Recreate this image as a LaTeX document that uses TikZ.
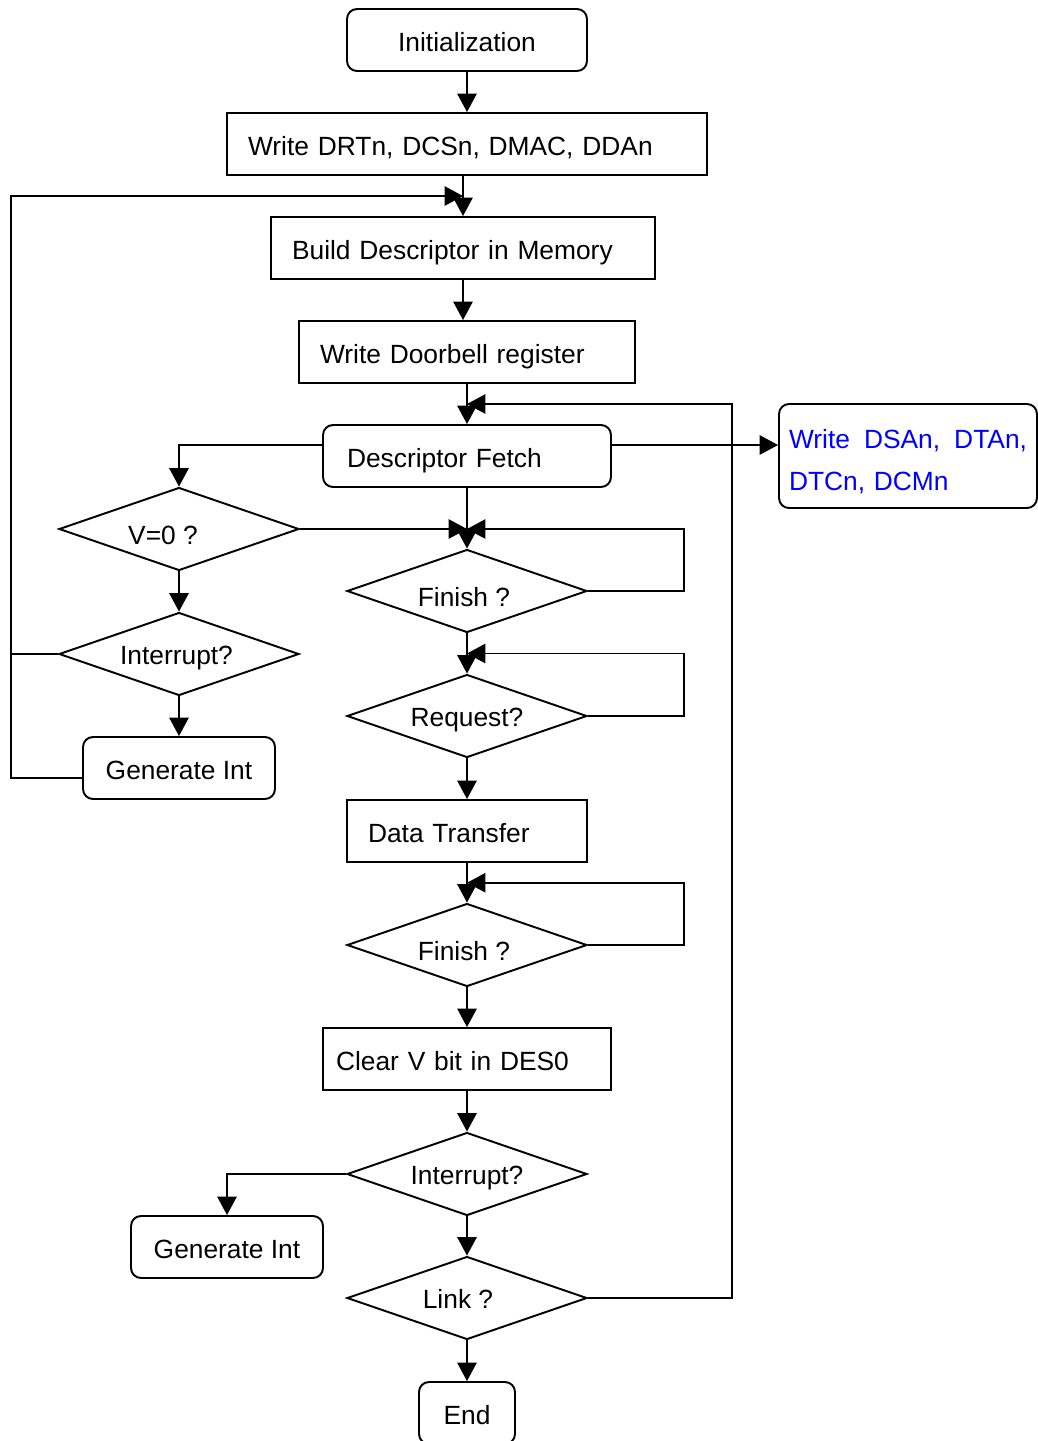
\documentclass[tikz,border=0pt]{standalone}
\usepackage{fontspec}
\setmainfont{Liberation Sans}
\usetikzlibrary{shapes.geometric,arrows.meta,calc}
\begin{document}
\begin{tikzpicture}[x=0.02cm,y=-0.02cm,>={Triangle[length=10.5pt,width=11pt]},line width=1.1pt,
	font=\fontsize{15}{18}\selectfont,
	proc/.style={draw,rectangle,minimum height=1.24cm,inner xsep=0.42cm,inner ysep=0pt,align=left,
		text height=15pt,text depth=2pt},
	term/.style={draw,rectangle,rounded corners=0.2cm,minimum height=1.24cm,inner sep=0pt,
		text height=15pt,text depth=2pt},
	test/.style={draw,diamond,aspect=2.9,minimum width=4.8cm,minimum height=1.66cm,inner sep=0pt,
		text height=13.4pt,text depth=2pt}]
	\useasboundingbox (0,0) rectangle (1038,1441);
	% main column
	\node[term,minimum width=4.8cm] (init) at (467,40) {Initialization};
	\node[proc,text width=8.76cm] (wregs) at (467,144) {Write DRTn, DCSn, DMAC, DDAn};
	\node[proc,text width=6.84cm] (build) at (463,248) {Build Descriptor in Memory};
	\node[proc,text width=5.88cm] (bell) at (467,352) {Write Doorbell register};
	\node[proc,rounded corners=0.2cm,inner xsep=0.48cm,text width=4.8cm] (fetch) at (467,456) {Descriptor Fetch};
	\node[test,text height=19.6pt] (fin1) at (467,591) {Finish ?\kern0.12cm};
	\node[test] (req) at (467,716) {Request?};
	\node[proc,text width=3.96cm] (xfer) at (467,831) {Data Transfer};
	\node[test,text height=19.6pt] (fin2) at (467,945) {Finish ?\kern0.12cm};
	\node[proc,inner xsep=0.26cm,text width=5.24cm] (clrv) at (467,1059) {Clear V bit in DES0};
	\node[test] (intB) at (467,1174) {Interrupt?};
	\node[test] (link) at (467,1298) {Link ?\kern0.36cm};
	\node[term,minimum width=1.92cm] (endn) at (467,1413) {End};
	% side nodes
	\node[term,inner xsep=0.2cm,text width=4.76cm,minimum height=2.08cm,align=left,text=blue,
		text height=15pt,text depth=23pt,
		font=\fontsize{15}{23.8}\selectfont] (wdesc) at (908,456) {Write\hfill DSAn,\hfill DTAn,\\DTCn, DCMn};
	\node[test,text height=19.6pt] (vzero) at (179,529) {V=0 ?\kern0.64cm};
	\node[test] (intA) at (179,654) {Interrupt?\kern0.1cm};
	\node[term,minimum width=3.84cm] (genA) at (179,768) {Generate Int};
	\node[term,minimum width=3.84cm] (genB) at (227,1247) {Generate Int};
	\coordinate (lft) at (11,196);
	\coordinate (rgt) at (732,404);
	\coordinate (fo) at ([yshift=0.22cm]fetch.east);
	\coordinate (fw) at ([yshift=0.22cm]fetch.west);
	\coordinate (gw) at ([yshift=-0.2cm]genA.west);
	% connectors
	\draw[->] (init) -- (wregs);
	\draw[->] (build.north |- wregs.south) -- (build.north);
	\draw[->] (gw) -| (lft) -- (build.north |- lft);
	\draw (intA.west) -- (intA.west -| lft);
	\draw[->] (build.south) -- (build.south |- bell.north);
	\draw[->] (bell) -- (fetch);
	\draw[->] (link.east) -| (rgt) -- (bell.south |- rgt);
	\draw[->] (fo) -- (fo -| wdesc.west);
	\draw[->] (fw) -| (vzero.north);
	\draw[->] (fetch) -- (fin1);
	\draw[->] (vzero.east) -- (vzero.east -| fin1.north);
	\draw[->] (fin1.east) -- ++(96,0) |- (vzero.east -| fin1.north);
	\draw[->] (vzero) -- (intA);
	\draw[->] (intA) -- (genA);
	\draw[->] (fin1) -- (req);
	\draw[->] (req.east) -- ++(96,0) |- ($(fin1.south)!.5!(req.north)$);
	\draw[->] (req) -- (xfer);
	\draw[->] (xfer) -- (fin2);
	\draw[->] (fin2.east) -- ++(96,0) |- ($(xfer.south)!.5!(fin2.north)$);
	\draw[->] (fin2) -- (clrv);
	\draw[->] (clrv) -- (intB);
	\draw[->] (intB.west) -| (genB.north);
	\draw[->] (intB) -- (link);
	\draw[->] (link) -- (endn);
\end{tikzpicture}
\end{document}
